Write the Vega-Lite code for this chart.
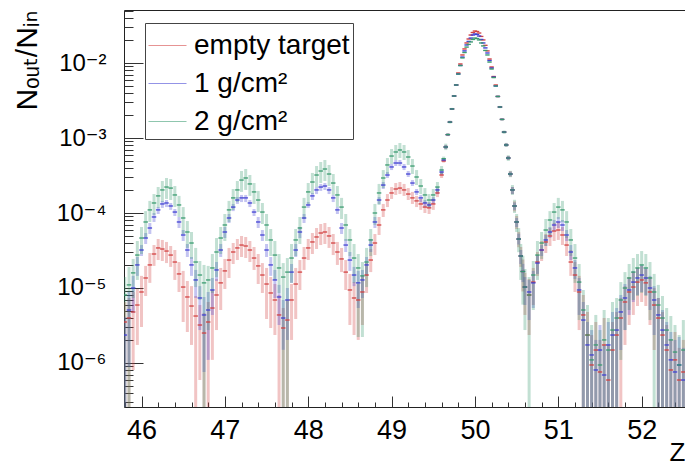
{
"$schema":"https://vega.github.io/schema/vega-lite/v6.json",
"width":561,"height":397,
"autosize":{"type":"none"},
"padding":{"left":124,"top":10,"right":0,"bottom":58},
"background":"white",
"config":{"view":{"stroke":"#222","strokeWidth":1},"font":"Liberation Sans, DejaVu Sans",
"axis":{"domain":false,"grid":false,"tickColor":"#333","tickWidth":1,"labelColor":"#000","titleColor":"#000","titleFontWeight":"normal","labelFont":"Liberation Sans, DejaVu Sans","titleFont":"Liberation Sans, DejaVu Sans","labelOverlap":false,"labelFlush":false,"labelBound":false}},
"data":{"values":[
{"z":45.8,"s":"e","v":3.52e-6,"lo":1e-8,"hi":6.51e-6},
{"z":45.85,"s":"e","v":3.98e-6,"lo":1e-8,"hi":7.36e-6},
{"z":45.9,"s":"e","v":4.79e-6,"lo":8.07e-7,"hi":8.85e-6},
{"z":45.95,"s":"e","v":5.93e-6,"lo":1.74e-6,"hi":9.70e-6},
{"z":46.0,"s":"e","v":8.85e-6,"lo":3.02e-6,"hi":1.45e-5},
{"z":46.05,"s":"e","v":1.36e-5,"lo":7.82e-6,"hi":1.97e-5},
{"z":46.1,"s":"e","v":2.03e-5,"lo":1.17e-5,"hi":2.93e-5},
{"z":46.15,"s":"e","v":2.84e-5,"lo":1.97e-5,"hi":3.74e-5},
{"z":46.2,"s":"e","v":3.42e-5,"lo":2.36e-5,"hi":4.50e-5},
{"z":46.25,"s":"e","v":3.31e-5,"lo":2.29e-5,"hi":4.37e-5},
{"z":46.3,"s":"e","v":3.11e-5,"lo":2.15e-5,"hi":4.11e-5},
{"z":46.35,"s":"e","v":2.75e-5,"lo":1.91e-5,"hi":3.63e-5},
{"z":46.4,"s":"e","v":2.22e-5,"lo":1.28e-5,"hi":3.21e-5},
{"z":46.45,"s":"e","v":1.54e-5,"lo":8.85e-6,"hi":2.22e-5},
{"z":46.5,"s":"e","v":1.03e-5,"lo":3.52e-6,"hi":1.69e-5},
{"z":46.55,"s":"e","v":7.59e-6,"lo":2.59e-6,"hi":1.24e-5},
{"z":46.6,"s":"e","v":5.75e-6,"lo":1.74e-6,"hi":1.06e-5},
{"z":46.65,"s":"e","v":4.23e-6,"lo":1e-8,"hi":7.82e-6},
{"z":46.7,"s":"e","v":3.21e-6,"lo":5.93e-7,"hi":5.93e-6},
{"z":46.75,"s":"e","v":2.51e-6,"lo":1e-8,"hi":4.64e-6},
{"z":46.8,"s":"e","v":3.52e-6,"lo":1e-8,"hi":6.51e-6},
{"z":46.85,"s":"e","v":5.41e-6,"lo":1.10e-6,"hi":9.41e-6},
{"z":46.9,"s":"e","v":8.07e-6,"lo":2.75e-6,"hi":1.32e-5},
{"z":46.95,"s":"e","v":1.17e-5,"lo":5.09e-6,"hi":1.85e-5},
{"z":47.0,"s":"e","v":1.69e-5,"lo":9.70e-6,"hi":2.44e-5},
{"z":47.05,"s":"e","v":2.36e-5,"lo":1.36e-5,"hi":3.42e-5},
{"z":47.1,"s":"e","v":3.02e-5,"lo":2.09e-5,"hi":3.98e-5},
{"z":47.15,"s":"e","v":3.42e-5,"lo":2.36e-5,"hi":4.50e-5},
{"z":47.2,"s":"e","v":3.74e-5,"lo":2.59e-5,"hi":4.94e-5},
{"z":47.25,"s":"e","v":3.63e-5,"lo":2.51e-5,"hi":4.79e-5},
{"z":47.3,"s":"e","v":3.21e-5,"lo":2.22e-5,"hi":4.23e-5},
{"z":47.35,"s":"e","v":2.51e-5,"lo":1.74e-5,"hi":3.52e-5},
{"z":47.4,"s":"e","v":1.97e-5,"lo":1.13e-5,"hi":2.84e-5},
{"z":47.45,"s":"e","v":1.49e-5,"lo":8.58e-6,"hi":2.15e-5},
{"z":47.5,"s":"e","v":1.13e-5,"lo":3.86e-6,"hi":1.85e-5},
{"z":47.55,"s":"e","v":8.58e-6,"lo":2.93e-6,"hi":1.40e-5},
{"z":47.6,"s":"e","v":6.92e-6,"lo":2.36e-6,"hi":1.13e-5},
{"z":47.65,"s":"e","v":4.37e-6,"lo":1e-8,"hi":8.07e-6},
{"z":47.7,"s":"e","v":2.93e-6,"lo":1e-8,"hi":5.41e-6},
{"z":47.75,"s":"e","v":3.74e-6,"lo":1e-8,"hi":6.92e-6},
{"z":47.8,"s":"e","v":6.92e-6,"lo":2.03e-6,"hi":1.13e-5},
{"z":47.85,"s":"e","v":1.13e-5,"lo":3.86e-6,"hi":1.85e-5},
{"z":47.9,"s":"e","v":1.63e-5,"lo":9.41e-6,"hi":2.36e-5},
{"z":47.95,"s":"e","v":2.51e-5,"lo":1.74e-5,"hi":3.52e-5},
{"z":48.0,"s":"e","v":3.42e-5,"lo":2.36e-5,"hi":4.50e-5},
{"z":48.05,"s":"e","v":4.11e-5,"lo":2.84e-5,"hi":5.41e-5},
{"z":48.1,"s":"e","v":4.79e-5,"lo":3.31e-5,"hi":6.31e-5},
{"z":48.15,"s":"e","v":5.41e-5,"lo":3.74e-5,"hi":7.13e-5},
{"z":48.2,"s":"e","v":5.58e-5,"lo":3.86e-5,"hi":7.36e-5},
{"z":48.25,"s":"e","v":4.94e-5,"lo":3.42e-5,"hi":6.51e-5},
{"z":48.3,"s":"e","v":3.98e-5,"lo":2.75e-5,"hi":5.25e-5},
{"z":48.35,"s":"e","v":3.02e-5,"lo":2.03e-5,"hi":4.11e-5},
{"z":48.4,"s":"e","v":2.44e-5,"lo":1.63e-5,"hi":3.42e-5},
{"z":48.45,"s":"e","v":1.63e-5,"lo":9.41e-6,"hi":2.36e-5},
{"z":48.5,"s":"e","v":9.41e-6,"lo":3.21e-6,"hi":1.54e-5},
{"z":48.55,"s":"e","v":7.36e-6,"lo":2.36e-6,"hi":1.20e-5},
{"z":48.6,"s":"e","v":6.92e-6,"lo":2.03e-6,"hi":1.13e-5},
{"z":48.65,"s":"e","v":8.85e-6,"lo":3.21e-6,"hi":1.45e-5},
{"z":48.7,"s":"e","v":1.49e-5,"lo":8.58e-6,"hi":2.15e-5},
{"z":48.75,"s":"e","v":2.36e-5,"lo":1.63e-5,"hi":3.31e-5},
{"z":48.8,"s":"e","v":3.98e-5,"lo":2.75e-5,"hi":5.25e-5},
{"z":48.85,"s":"e","v":6.92e-5,"lo":5.09e-5,"hi":8.85e-5},
{"z":48.9,"s":"e","v":1.10e-4,"lo":8.85e-5,"hi":1.32e-4},
{"z":48.95,"s":"e","v":1.49e-4,"lo":1.20e-4,"hi":1.79e-4},
{"z":49.0,"s":"e","v":1.85e-4,"lo":1.54e-4,"hi":2.22e-4},
{"z":49.05,"s":"e","v":2.09e-4,"lo":1.74e-4,"hi":2.51e-4},
{"z":49.1,"s":"e","v":2.15e-4,"lo":1.79e-4,"hi":2.59e-4},
{"z":49.15,"s":"e","v":2.03e-4,"lo":1.69e-4,"hi":2.44e-4},
{"z":49.2,"s":"e","v":1.79e-4,"lo":1.49e-4,"hi":2.15e-4},
{"z":49.25,"s":"e","v":1.59e-4,"lo":1.32e-4,"hi":1.91e-4},
{"z":49.3,"s":"e","v":1.45e-4,"lo":1.20e-4,"hi":1.69e-4},
{"z":49.35,"s":"e","v":1.32e-4,"lo":1.10e-4,"hi":1.54e-4},
{"z":49.4,"s":"e","v":1.20e-4,"lo":1.00e-4,"hi":1.40e-4},
{"z":49.45,"s":"e","v":1.17e-4,"lo":9.70e-5,"hi":1.36e-4},
{"z":49.5,"s":"e","v":1.32e-4,"lo":1.10e-4,"hi":1.54e-4},
{"z":49.55,"s":"e","v":1.85e-4,"lo":1.63e-4,"hi":2.09e-4},
{"z":49.6,"s":"e","v":3.21e-4,"lo":2.93e-4,"hi":3.52e-4},
{"z":49.65,"s":"e","v":7.59e-4,"lo":7.13e-4,"hi":8.07e-4},
{"z":49.7,"s":"e","v":1.63e-3,"lo":1.59e-3,"hi":1.69e-3},
{"z":49.75,"s":"e","v":3.63e-3,"lo":3.52e-3,"hi":3.74e-3},
{"z":49.8,"s":"e","v":7.36e-3,"lo":7.2e-3,"hi":7.5e-3},
{"z":49.85,"s":"e","v":1.28e-2,"lo":1.26e-2,"hi":1.30e-2},
{"z":49.9,"s":"e","v":1.85e-2,"lo":1.82e-2,"hi":1.88e-2},
{"z":49.95,"s":"e","v":2.36e-2,"lo":2.32e-2,"hi":2.40e-2},
{"z":50.0,"s":"e","v":2.67e-2,"lo":2.62e-2,"hi":2.72e-2},
{"z":50.05,"s":"e","v":2.51e-2,"lo":2.47e-2,"hi":2.55e-2},
{"z":50.1,"s":"e","v":2.03e-2,"lo":2.00e-2,"hi":2.06e-2},
{"z":50.15,"s":"e","v":1.45e-2,"lo":1.43e-2,"hi":1.47e-2},
{"z":50.2,"s":"e","v":8.85e-3,"lo":8.7e-3,"hi":9.0e-3},
{"z":50.25,"s":"e","v":5.09e-3,"lo":4.99e-3,"hi":5.19e-3},
{"z":50.3,"s":"e","v":2.59e-3,"lo":2.53e-3,"hi":2.65e-3},
{"z":50.35,"s":"e","v":1.20e-3,"lo":1.16e-3,"hi":1.24e-3},
{"z":50.4,"s":"e","v":5.41e-4,"lo":5.09e-4,"hi":5.75e-4},
{"z":50.45,"s":"e","v":2.03e-4,"lo":1.79e-4,"hi":2.22e-4},
{"z":50.5,"s":"e","v":7.59e-5,"lo":6.12e-5,"hi":9.12e-5},
{"z":50.55,"s":"e","v":2.67e-5,"lo":1.91e-5,"hi":3.52e-5},
{"z":50.6,"s":"e","v":1.03e-5,"lo":4.37e-6,"hi":1.59e-5},
{"z":50.65,"s":"e","v":8.07e-6,"lo":2.36e-6,"hi":1.32e-5},
{"z":50.7,"s":"e","v":1.20e-5,"lo":5.93e-6,"hi":1.85e-5},
{"z":50.75,"s":"e","v":2.22e-5,"lo":1.45e-5,"hi":3.02e-5},
{"z":50.8,"s":"e","v":3.21e-5,"lo":2.29e-5,"hi":4.23e-5},
{"z":50.85,"s":"e","v":4.11e-5,"lo":2.93e-5,"hi":5.25e-5},
{"z":50.9,"s":"e","v":4.94e-5,"lo":3.63e-5,"hi":6.31e-5},
{"z":50.95,"s":"e","v":5.75e-5,"lo":4.23e-5,"hi":7.36e-5},
{"z":51.0,"s":"e","v":5.93e-5,"lo":4.37e-5,"hi":7.59e-5},
{"z":51.05,"s":"e","v":5.09e-5,"lo":3.74e-5,"hi":6.51e-5},
{"z":51.1,"s":"e","v":3.74e-5,"lo":2.67e-5,"hi":4.94e-5},
{"z":51.15,"s":"e","v":2.22e-5,"lo":1.45e-5,"hi":3.21e-5},
{"z":51.2,"s":"e","v":1.49e-5,"lo":8.85e-6,"hi":2.22e-5},
{"z":51.25,"s":"e","v":8.85e-6,"lo":2.75e-6,"hi":1.45e-5},
{"z":51.3,"s":"e","v":4.37e-6,"lo":1e-8,"hi":8.07e-6},
{"z":51.35,"s":"e","v":2.36e-6,"lo":1e-8,"hi":4.79e-6},
{"z":51.4,"s":"e","v":9.41e-7,"lo":1e-8,"hi":2.36e-6},
{"z":51.45,"s":"e","v":1.49e-6,"lo":1e-8,"hi":3.52e-6},
{"z":51.5,"s":"e","v":7.59e-7,"lo":1e-8,"hi":2.03e-6},
{"z":51.55,"s":"e","v":1.74e-6,"lo":1e-8,"hi":3.98e-6},
{"z":51.6,"s":"e","v":5.93e-7,"lo":1e-8,"hi":1.74e-6},
{"z":51.65,"s":"e","v":1.49e-6,"lo":1e-8,"hi":3.52e-6},
{"z":51.7,"s":"e","v":2.36e-6,"lo":1e-8,"hi":4.79e-6},
{"z":51.75,"s":"e","v":3.98e-6,"lo":1e-8,"hi":7.36e-6},
{"z":51.8,"s":"e","v":6.51e-6,"lo":1.74e-6,"hi":1.06e-5},
{"z":51.85,"s":"e","v":8.85e-6,"lo":3.21e-6,"hi":1.40e-5},
{"z":51.9,"s":"e","v":1.03e-5,"lo":4.37e-6,"hi":1.63e-5},
{"z":51.95,"s":"e","v":1.20e-5,"lo":5.75e-6,"hi":1.85e-5},
{"z":52.0,"s":"e","v":1.28e-5,"lo":6.51e-6,"hi":1.97e-5},
{"z":52.05,"s":"e","v":1.17e-5,"lo":5.75e-6,"hi":1.79e-5},
{"z":52.1,"s":"e","v":8.85e-6,"lo":3.21e-6,"hi":1.40e-5},
{"z":52.15,"s":"e","v":5.93e-6,"lo":1.49e-6,"hi":1.00e-5},
{"z":52.2,"s":"e","v":3.98e-6,"lo":1e-8,"hi":7.36e-6},
{"z":52.25,"s":"e","v":2.36e-6,"lo":1e-8,"hi":4.79e-6},
{"z":52.3,"s":"e","v":1.49e-6,"lo":1e-8,"hi":3.21e-6},
{"z":52.35,"s":"e","v":8.07e-7,"lo":1e-8,"hi":2.03e-6},
{"z":52.4,"s":"e","v":1.10e-6,"lo":1e-8,"hi":2.59e-6},
{"z":52.45,"s":"e","v":5.93e-7,"lo":1e-8,"hi":1.59e-6},
{"z":52.5,"s":"e","v":7.59e-7,"lo":1e-8,"hi":2.03e-6},
{"z":49.625,"s":"e","v":4.94e-4,"lo":4.7e-4,"hi":5.2e-4},
{"z":49.675,"s":"e","v":1.11e-3,"lo":1.07e-3,"hi":1.15e-3},
{"z":49.725,"s":"e","v":2.44e-3,"lo":2.38e-3,"hi":2.50e-3},
{"z":49.775,"s":"e","v":5.09e-3,"lo":4.99e-3,"hi":5.19e-3},
{"z":49.825,"s":"e","v":9.70e-3,"lo":9.5e-3,"hi":9.9e-3},
{"z":49.875,"s":"e","v":1.54e-2,"lo":1.51e-2,"hi":1.57e-2},
{"z":49.925,"s":"e","v":2.09e-2,"lo":2.05e-2,"hi":2.13e-2},
{"z":49.975,"s":"e","v":2.55e-2,"lo":2.50e-2,"hi":2.60e-2},
{"z":50.025,"s":"e","v":2.63e-2,"lo":2.58e-2,"hi":2.68e-2},
{"z":50.075,"s":"e","v":2.26e-2,"lo":2.22e-2,"hi":2.30e-2},
{"z":50.125,"s":"e","v":1.72e-2,"lo":1.69e-2,"hi":1.75e-2},
{"z":50.175,"s":"e","v":1.13e-2,"lo":1.11e-2,"hi":1.15e-2},
{"z":50.225,"s":"e","v":6.6e-3,"lo":6.45e-3,"hi":6.75e-3},
{"z":50.275,"s":"e","v":3.58e-3,"lo":3.49e-3,"hi":3.67e-3},
{"z":50.325,"s":"e","v":1.77e-3,"lo":1.72e-3,"hi":1.82e-3},
{"z":50.375,"s":"e","v":8.07e-4,"lo":7.7e-4,"hi":8.5e-4},
{"z":50.425,"s":"e","v":3.31e-4,"lo":3.05e-4,"hi":3.6e-4},
{"z":50.475,"s":"e","v":1.24e-4,"lo":1.05e-4,"hi":1.43e-4},
{"z":50.525,"s":"e","v":4.5e-5,"lo":3.5e-5,"hi":5.6e-5},
{"z":50.575,"s":"e","v":1.66e-5,"lo":9e-6,"hi":2.4e-5},
{"z":45.8,"s":"1","v":2.36e-6,"lo":1e-8,"hi":4.11e-6},
{"z":45.85,"s":"1","v":5.09e-6,"lo":8.85e-7,"hi":8.85e-6},
{"z":45.9,"s":"1","v":1.00e-5,"lo":4.64e-6,"hi":1.45e-5},
{"z":45.95,"s":"1","v":2.03e-5,"lo":1.45e-5,"hi":2.59e-5},
{"z":46.0,"s":"1","v":3.21e-5,"lo":2.67e-5,"hi":3.74e-5},
{"z":46.05,"s":"1","v":4.64e-5,"lo":3.86e-5,"hi":5.41e-5},
{"z":46.1,"s":"1","v":6.31e-5,"lo":5.25e-5,"hi":7.36e-5},
{"z":46.15,"s":"1","v":8.85e-5,"lo":7.59e-5,"hi":1.00e-4},
{"z":46.2,"s":"1","v":1.10e-4,"lo":9.70e-5,"hi":1.20e-4},
{"z":46.25,"s":"1","v":1.32e-4,"lo":1.17e-4,"hi":1.45e-4},
{"z":46.3,"s":"1","v":1.36e-4,"lo":1.20e-4,"hi":1.49e-4},
{"z":46.35,"s":"1","v":1.24e-4,"lo":1.10e-4,"hi":1.36e-4},
{"z":46.4,"s":"1","v":1.03e-4,"lo":9.12e-5,"hi":1.13e-4},
{"z":46.45,"s":"1","v":7.59e-5,"lo":6.31e-5,"hi":8.85e-5},
{"z":46.5,"s":"1","v":5.09e-5,"lo":4.23e-5,"hi":5.93e-5},
{"z":46.55,"s":"1","v":3.21e-5,"lo":2.59e-5,"hi":3.86e-5},
{"z":46.6,"s":"1","v":2.03e-5,"lo":1.45e-5,"hi":2.59e-5},
{"z":46.65,"s":"1","v":1.28e-5,"lo":7.36e-6,"hi":1.74e-5},
{"z":46.7,"s":"1","v":7.36e-6,"lo":2.75e-6,"hi":1.06e-5},
{"z":46.75,"s":"1","v":4.37e-6,"lo":7.59e-7,"hi":7.59e-6},
{"z":46.8,"s":"1","v":5.09e-6,"lo":1.10e-6,"hi":8.85e-6},
{"z":46.85,"s":"1","v":9.41e-6,"lo":4.37e-6,"hi":1.36e-5},
{"z":46.9,"s":"1","v":1.74e-5,"lo":1.24e-5,"hi":2.22e-5},
{"z":46.95,"s":"1","v":3.21e-5,"lo":2.59e-5,"hi":3.86e-5},
{"z":47.0,"s":"1","v":5.58e-5,"lo":4.64e-5,"hi":6.51e-5},
{"z":47.05,"s":"1","v":8.58e-5,"lo":7.36e-5,"hi":9.70e-5},
{"z":47.1,"s":"1","v":1.20e-4,"lo":1.06e-4,"hi":1.32e-4},
{"z":47.15,"s":"1","v":1.49e-4,"lo":1.32e-4,"hi":1.63e-4},
{"z":47.2,"s":"1","v":1.59e-4,"lo":1.40e-4,"hi":1.74e-4},
{"z":47.25,"s":"1","v":1.59e-4,"lo":1.40e-4,"hi":1.74e-4},
{"z":47.3,"s":"1","v":1.36e-4,"lo":1.20e-4,"hi":1.49e-4},
{"z":47.35,"s":"1","v":1.03e-4,"lo":9.12e-5,"hi":1.13e-4},
{"z":47.4,"s":"1","v":7.59e-5,"lo":6.31e-5,"hi":8.85e-5},
{"z":47.45,"s":"1","v":5.09e-5,"lo":4.23e-5,"hi":5.93e-5},
{"z":47.5,"s":"1","v":3.21e-5,"lo":2.59e-5,"hi":3.86e-5},
{"z":47.55,"s":"1","v":2.03e-5,"lo":1.45e-5,"hi":2.59e-5},
{"z":47.6,"s":"1","v":1.28e-5,"lo":7.36e-6,"hi":1.74e-5},
{"z":47.65,"s":"1","v":7.59e-6,"lo":3.21e-6,"hi":1.10e-5},
{"z":47.7,"s":"1","v":3.98e-6,"lo":1.5e-6,"hi":6.92e-6},
{"z":47.75,"s":"1","v":6.92e-6,"lo":2.03e-6,"hi":1.00e-5},
{"z":47.8,"s":"1","v":1.63e-5,"lo":1.17e-5,"hi":2.09e-5},
{"z":47.85,"s":"1","v":3.21e-5,"lo":2.59e-5,"hi":3.86e-5},
{"z":47.9,"s":"1","v":5.58e-5,"lo":4.64e-5,"hi":6.51e-5},
{"z":47.95,"s":"1","v":8.58e-5,"lo":7.36e-5,"hi":9.70e-5},
{"z":48.0,"s":"1","v":1.28e-4,"lo":1.17e-4,"hi":1.40e-4},
{"z":48.05,"s":"1","v":1.69e-4,"lo":1.49e-4,"hi":1.85e-4},
{"z":48.1,"s":"1","v":2.03e-4,"lo":1.79e-4,"hi":2.22e-4},
{"z":48.15,"s":"1","v":2.22e-4,"lo":1.97e-4,"hi":2.44e-4},
{"z":48.2,"s":"1","v":2.29e-4,"lo":2.03e-4,"hi":2.51e-4},
{"z":48.25,"s":"1","v":2.03e-4,"lo":1.79e-4,"hi":2.22e-4},
{"z":48.3,"s":"1","v":1.59e-4,"lo":1.40e-4,"hi":1.74e-4},
{"z":48.35,"s":"1","v":1.10e-4,"lo":9.70e-5,"hi":1.20e-4},
{"z":48.4,"s":"1","v":6.31e-5,"lo":5.25e-5,"hi":7.36e-5},
{"z":48.45,"s":"1","v":3.74e-5,"lo":3.02e-5,"hi":4.50e-5},
{"z":48.5,"s":"1","v":2.36e-5,"lo":1.69e-5,"hi":3.02e-5},
{"z":48.55,"s":"1","v":1.49e-5,"lo":1.06e-5,"hi":1.91e-5},
{"z":48.6,"s":"1","v":1.17e-5,"lo":5.41e-6,"hi":1.69e-5},
{"z":48.65,"s":"1","v":1.28e-5,"lo":7.36e-6,"hi":1.74e-5},
{"z":48.7,"s":"1","v":2.03e-5,"lo":1.45e-5,"hi":2.59e-5},
{"z":48.75,"s":"1","v":3.74e-5,"lo":3.02e-5,"hi":4.50e-5},
{"z":48.8,"s":"1","v":7.59e-5,"lo":6.31e-5,"hi":8.85e-5},
{"z":48.85,"s":"1","v":1.49e-4,"lo":1.32e-4,"hi":1.63e-4},
{"z":48.9,"s":"1","v":2.36e-4,"lo":2.09e-4,"hi":2.59e-4},
{"z":48.95,"s":"1","v":3.21e-4,"lo":2.93e-4,"hi":3.52e-4},
{"z":49.0,"s":"1","v":4.11e-4,"lo":3.74e-4,"hi":4.50e-4},
{"z":49.05,"s":"1","v":4.64e-4,"lo":4.23e-4,"hi":5.09e-4},
{"z":49.1,"s":"1","v":4.64e-4,"lo":4.23e-4,"hi":5.09e-4},
{"z":49.15,"s":"1","v":4.11e-4,"lo":3.74e-4,"hi":4.50e-4},
{"z":49.2,"s":"1","v":3.31e-4,"lo":3.02e-4,"hi":3.63e-4},
{"z":49.25,"s":"1","v":2.51e-4,"lo":2.29e-4,"hi":2.75e-4},
{"z":49.3,"s":"1","v":1.91e-4,"lo":1.74e-4,"hi":2.09e-4},
{"z":49.35,"s":"1","v":1.59e-4,"lo":1.40e-4,"hi":1.74e-4},
{"z":49.4,"s":"1","v":1.36e-4,"lo":1.20e-4,"hi":1.49e-4},
{"z":49.45,"s":"1","v":1.28e-4,"lo":1.17e-4,"hi":1.40e-4},
{"z":49.5,"s":"1","v":1.49e-4,"lo":1.32e-4,"hi":1.63e-4},
{"z":49.55,"s":"1","v":2.03e-4,"lo":1.79e-4,"hi":2.22e-4},
{"z":49.6,"s":"1","v":3.52e-4,"lo":3.21e-4,"hi":3.86e-4},
{"z":49.65,"s":"1","v":7.59e-4,"lo":7.13e-4,"hi":8.07e-4},
{"z":49.7,"s":"1","v":1.63e-3,"lo":1.59e-3,"hi":1.69e-3},
{"z":49.75,"s":"1","v":3.63e-3,"lo":3.52e-3,"hi":3.74e-3},
{"z":49.8,"s":"1","v":7.13e-3,"lo":6.92e-3,"hi":7.36e-3},
{"z":49.85,"s":"1","v":1.20e-2,"lo":1.18e-2,"hi":1.22e-2},
{"z":49.9,"s":"1","v":1.74e-2,"lo":1.71e-2,"hi":1.77e-2},
{"z":49.95,"s":"1","v":2.15e-2,"lo":2.11e-2,"hi":2.19e-2},
{"z":50.0,"s":"1","v":2.44e-2,"lo":2.40e-2,"hi":2.48e-2},
{"z":50.05,"s":"1","v":2.29e-2,"lo":2.25e-2,"hi":2.33e-2},
{"z":50.1,"s":"1","v":1.85e-2,"lo":1.82e-2,"hi":1.88e-2},
{"z":50.15,"s":"1","v":1.36e-2,"lo":1.34e-2,"hi":1.38e-2},
{"z":50.2,"s":"1","v":8.58e-3,"lo":8.41e-3,"hi":8.75e-3},
{"z":50.25,"s":"1","v":4.94e-3,"lo":4.84e-3,"hi":5.04e-3},
{"z":50.3,"s":"1","v":2.59e-3,"lo":2.53e-3,"hi":2.65e-3},
{"z":50.35,"s":"1","v":1.20e-3,"lo":1.16e-3,"hi":1.24e-3},
{"z":50.4,"s":"1","v":5.41e-4,"lo":5.09e-4,"hi":5.75e-4},
{"z":50.45,"s":"1","v":2.03e-4,"lo":1.79e-4,"hi":2.22e-4},
{"z":50.5,"s":"1","v":7.59e-5,"lo":6.51e-5,"hi":8.58e-5},
{"z":50.55,"s":"1","v":2.67e-5,"lo":2.09e-5,"hi":3.21e-5},
{"z":50.6,"s":"1","v":1.03e-5,"lo":5.93e-6,"hi":1.40e-5},
{"z":50.65,"s":"1","v":8.85e-6,"lo":3.74e-6,"hi":1.28e-5},
{"z":50.7,"s":"1","v":1.17e-5,"lo":5.41e-6,"hi":1.69e-5},
{"z":50.75,"s":"1","v":2.15e-5,"lo":1.54e-5,"hi":2.75e-5},
{"z":50.8,"s":"1","v":3.21e-5,"lo":2.67e-5,"hi":3.74e-5},
{"z":50.85,"s":"1","v":4.37e-5,"lo":3.63e-5,"hi":5.09e-5},
{"z":50.9,"s":"1","v":5.58e-5,"lo":4.64e-5,"hi":6.51e-5},
{"z":50.95,"s":"1","v":6.92e-5,"lo":5.75e-5,"hi":8.07e-5},
{"z":51.0,"s":"1","v":7.59e-5,"lo":6.31e-5,"hi":8.85e-5},
{"z":51.05,"s":"1","v":6.92e-5,"lo":5.75e-5,"hi":8.07e-5},
{"z":51.1,"s":"1","v":5.09e-5,"lo":4.23e-5,"hi":5.93e-5},
{"z":51.15,"s":"1","v":3.02e-5,"lo":2.36e-5,"hi":3.74e-5},
{"z":51.2,"s":"1","v":1.85e-5,"lo":1.32e-5,"hi":2.36e-5},
{"z":51.25,"s":"1","v":9.41e-6,"lo":4.37e-6,"hi":1.36e-5},
{"z":51.3,"s":"1","v":3.74e-6,"lo":1e-8,"hi":6.51e-6},
{"z":51.35,"s":"1","v":1.74e-6,"lo":1e-8,"hi":3.52e-6},
{"z":51.4,"s":"1","v":1.28e-6,"lo":1e-8,"hi":2.75e-6},
{"z":51.45,"s":"1","v":8.07e-7,"lo":1e-8,"hi":2.03e-6},
{"z":51.5,"s":"1","v":1.49e-6,"lo":1e-8,"hi":3.21e-6},
{"z":51.55,"s":"1","v":6.92e-7,"lo":1e-8,"hi":1.74e-6},
{"z":51.6,"s":"1","v":1.74e-6,"lo":1e-8,"hi":3.52e-6},
{"z":51.65,"s":"1","v":2.36e-6,"lo":1e-8,"hi":4.79e-6},
{"z":51.7,"s":"1","v":2.75e-6,"lo":1e-8,"hi":5.41e-6},
{"z":51.75,"s":"1","v":4.79e-6,"lo":1.49e-6,"hi":8.07e-6},
{"z":51.8,"s":"1","v":7.36e-6,"lo":2.75e-6,"hi":1.13e-5},
{"z":51.85,"s":"1","v":9.41e-6,"lo":4.37e-6,"hi":1.36e-5},
{"z":51.9,"s":"1","v":1.20e-5,"lo":6.51e-6,"hi":1.69e-5},
{"z":51.95,"s":"1","v":1.36e-5,"lo":8.07e-6,"hi":1.85e-5},
{"z":52.0,"s":"1","v":1.49e-5,"lo":8.85e-6,"hi":2.03e-5},
{"z":52.05,"s":"1","v":1.36e-5,"lo":8.07e-6,"hi":1.85e-5},
{"z":52.1,"s":"1","v":1.00e-5,"lo":5.09e-6,"hi":1.45e-5},
{"z":52.15,"s":"1","v":6.92e-6,"lo":2.36e-6,"hi":1.06e-5},
{"z":52.2,"s":"1","v":4.37e-6,"lo":1e-8,"hi":7.36e-6},
{"z":52.25,"s":"1","v":2.75e-6,"lo":1e-8,"hi":5.09e-6},
{"z":52.3,"s":"1","v":1.74e-6,"lo":1e-8,"hi":3.52e-6},
{"z":52.35,"s":"1","v":1.10e-6,"lo":1e-8,"hi":2.59e-6},
{"z":52.4,"s":"1","v":7.59e-7,"lo":1e-8,"hi":2.03e-6},
{"z":52.45,"s":"1","v":9.41e-7,"lo":1e-8,"hi":2.22e-6},
{"z":52.5,"s":"1","v":5.93e-7,"lo":1e-8,"hi":1.59e-6},
{"z":49.625,"s":"1","v":5.09e-4,"lo":4.85e-4,"hi":5.35e-4},
{"z":49.675,"s":"1","v":1.11e-3,"lo":1.07e-3,"hi":1.15e-3},
{"z":49.725,"s":"1","v":2.44e-3,"lo":2.38e-3,"hi":2.50e-3},
{"z":49.775,"s":"1","v":5.09e-3,"lo":4.99e-3,"hi":5.19e-3},
{"z":49.825,"s":"1","v":9.26e-3,"lo":9.07e-3,"hi":9.45e-3},
{"z":49.875,"s":"1","v":1.45e-2,"lo":1.42e-2,"hi":1.48e-2},
{"z":49.925,"s":"1","v":1.94e-2,"lo":1.90e-2,"hi":1.98e-2},
{"z":49.975,"s":"1","v":2.36e-2,"lo":2.32e-2,"hi":2.40e-2},
{"z":50.025,"s":"1","v":2.40e-2,"lo":2.36e-2,"hi":2.44e-2},
{"z":50.075,"s":"1","v":2.06e-2,"lo":2.02e-2,"hi":2.10e-2},
{"z":50.125,"s":"1","v":1.59e-2,"lo":1.56e-2,"hi":1.62e-2},
{"z":50.175,"s":"1","v":1.08e-2,"lo":1.06e-2,"hi":1.10e-2},
{"z":50.225,"s":"1","v":6.51e-3,"lo":6.38e-3,"hi":6.64e-3},
{"z":50.275,"s":"1","v":3.58e-3,"lo":3.49e-3,"hi":3.67e-3},
{"z":50.325,"s":"1","v":1.77e-3,"lo":1.72e-3,"hi":1.82e-3},
{"z":50.375,"s":"1","v":8.07e-4,"lo":7.7e-4,"hi":8.5e-4},
{"z":50.425,"s":"1","v":3.31e-4,"lo":3.08e-4,"hi":3.55e-4},
{"z":50.475,"s":"1","v":1.24e-4,"lo":1.1e-4,"hi":1.38e-4},
{"z":50.525,"s":"1","v":4.5e-5,"lo":3.8e-5,"hi":5.3e-5},
{"z":50.575,"s":"1","v":1.66e-5,"lo":1.2e-5,"hi":2.1e-5},
{"z":45.8,"s":"2","v":8.07e-6,"lo":1e-8,"hi":1.40e-5},
{"z":45.85,"s":"2","v":1.10e-5,"lo":1e-8,"hi":1.91e-5},
{"z":45.9,"s":"2","v":1.59e-5,"lo":7.36e-6,"hi":2.44e-5},
{"z":45.95,"s":"2","v":2.75e-5,"lo":1.28e-5,"hi":4.23e-5},
{"z":46.0,"s":"2","v":4.64e-5,"lo":2.84e-5,"hi":6.51e-5},
{"z":46.05,"s":"2","v":7.59e-5,"lo":4.64e-5,"hi":1.06e-4},
{"z":46.1,"s":"2","v":1.10e-4,"lo":7.59e-5,"hi":1.45e-4},
{"z":46.15,"s":"2","v":1.36e-4,"lo":9.41e-5,"hi":1.79e-4},
{"z":46.2,"s":"2","v":1.69e-4,"lo":1.17e-4,"hi":2.22e-4},
{"z":46.25,"s":"2","v":2.03e-4,"lo":1.40e-4,"hi":2.67e-4},
{"z":46.3,"s":"2","v":2.22e-4,"lo":1.54e-4,"hi":2.93e-4},
{"z":46.35,"s":"2","v":2.15e-4,"lo":1.49e-4,"hi":2.84e-4},
{"z":46.4,"s":"2","v":1.74e-4,"lo":1.20e-4,"hi":2.29e-4},
{"z":46.45,"s":"2","v":1.28e-4,"lo":8.85e-5,"hi":1.69e-4},
{"z":46.5,"s":"2","v":8.58e-5,"lo":5.25e-5,"hi":1.20e-4},
{"z":46.55,"s":"2","v":5.58e-5,"lo":3.42e-5,"hi":7.82e-5},
{"z":46.6,"s":"2","v":3.98e-5,"lo":2.44e-5,"hi":5.58e-5},
{"z":46.65,"s":"2","v":2.22e-5,"lo":1.03e-5,"hi":3.42e-5},
{"z":46.7,"s":"2","v":1.49e-5,"lo":6.92e-6,"hi":2.29e-5},
{"z":46.75,"s":"2","v":1.17e-5,"lo":1e-8,"hi":2.03e-5},
{"z":46.8,"s":"2","v":1.28e-5,"lo":2.75e-6,"hi":1.97e-5},
{"z":46.85,"s":"2","v":1.85e-5,"lo":8.58e-6,"hi":2.84e-5},
{"z":46.9,"s":"2","v":3.02e-5,"lo":1.40e-5,"hi":4.64e-5},
{"z":46.95,"s":"2","v":4.64e-5,"lo":2.84e-5,"hi":6.51e-5},
{"z":47.0,"s":"2","v":6.92e-5,"lo":4.23e-5,"hi":9.70e-5},
{"z":47.05,"s":"2","v":1.10e-4,"lo":7.59e-5,"hi":1.45e-4},
{"z":47.1,"s":"2","v":1.59e-4,"lo":1.10e-4,"hi":2.09e-4},
{"z":47.15,"s":"2","v":2.03e-4,"lo":1.40e-4,"hi":2.67e-4},
{"z":47.2,"s":"2","v":2.75e-4,"lo":1.91e-4,"hi":3.63e-4},
{"z":47.25,"s":"2","v":2.93e-4,"lo":2.03e-4,"hi":3.86e-4},
{"z":47.3,"s":"2","v":2.44e-4,"lo":1.69e-4,"hi":3.21e-4},
{"z":47.35,"s":"2","v":1.91e-4,"lo":1.32e-4,"hi":2.51e-4},
{"z":47.4,"s":"2","v":1.49e-4,"lo":1.03e-4,"hi":1.97e-4},
{"z":47.45,"s":"2","v":1.03e-4,"lo":7.13e-5,"hi":1.36e-4},
{"z":47.5,"s":"2","v":6.92e-5,"lo":4.23e-5,"hi":9.70e-5},
{"z":47.55,"s":"2","v":4.37e-5,"lo":2.67e-5,"hi":6.12e-5},
{"z":47.6,"s":"2","v":2.75e-5,"lo":1.28e-5,"hi":4.23e-5},
{"z":47.65,"s":"2","v":1.85e-5,"lo":8.58e-6,"hi":2.84e-5},
{"z":47.7,"s":"2","v":1.40e-5,"lo":1e-8,"hi":2.15e-5},
{"z":47.75,"s":"2","v":1.63e-5,"lo":1e-8,"hi":2.51e-5},
{"z":47.8,"s":"2","v":2.51e-5,"lo":1.17e-5,"hi":3.86e-5},
{"z":47.85,"s":"2","v":4.37e-5,"lo":2.67e-5,"hi":6.12e-5},
{"z":47.9,"s":"2","v":6.31e-5,"lo":3.86e-5,"hi":8.85e-5},
{"z":47.95,"s":"2","v":1.20e-4,"lo":8.32e-5,"hi":1.59e-4},
{"z":48.0,"s":"2","v":1.91e-4,"lo":1.32e-4,"hi":2.51e-4},
{"z":48.05,"s":"2","v":2.59e-4,"lo":1.79e-4,"hi":3.42e-4},
{"z":48.1,"s":"2","v":3.21e-4,"lo":2.22e-4,"hi":4.23e-4},
{"z":48.15,"s":"2","v":3.63e-4,"lo":2.51e-4,"hi":4.79e-4},
{"z":48.2,"s":"2","v":3.86e-4,"lo":2.67e-4,"hi":5.09e-4},
{"z":48.25,"s":"2","v":3.31e-4,"lo":2.29e-4,"hi":4.37e-4},
{"z":48.3,"s":"2","v":2.51e-4,"lo":1.74e-4,"hi":3.31e-4},
{"z":48.35,"s":"2","v":1.74e-4,"lo":1.20e-4,"hi":2.29e-4},
{"z":48.4,"s":"2","v":1.20e-4,"lo":8.32e-5,"hi":1.59e-4},
{"z":48.45,"s":"2","v":6.92e-5,"lo":4.23e-5,"hi":9.70e-5},
{"z":48.5,"s":"2","v":4.37e-5,"lo":2.67e-5,"hi":6.12e-5},
{"z":48.55,"s":"2","v":2.51e-5,"lo":1.17e-5,"hi":3.86e-5},
{"z":48.6,"s":"2","v":1.85e-5,"lo":2.22e-6,"hi":2.84e-5},
{"z":48.65,"s":"2","v":1.45e-5,"lo":2.22e-6,"hi":2.22e-5},
{"z":48.7,"s":"2","v":2.22e-5,"lo":1.03e-5,"hi":3.42e-5},
{"z":48.75,"s":"2","v":4.37e-5,"lo":2.67e-5,"hi":6.12e-5},
{"z":48.8,"s":"2","v":1.00e-4,"lo":6.92e-5,"hi":1.32e-4},
{"z":48.85,"s":"2","v":1.85e-4,"lo":1.28e-4,"hi":2.44e-4},
{"z":48.9,"s":"2","v":2.93e-4,"lo":2.15e-4,"hi":3.74e-4},
{"z":48.95,"s":"2","v":4.37e-4,"lo":3.31e-4,"hi":5.41e-4},
{"z":49.0,"s":"2","v":5.75e-4,"lo":4.50e-4,"hi":7.13e-4},
{"z":49.05,"s":"2","v":6.51e-4,"lo":5.09e-4,"hi":8.07e-4},
{"z":49.1,"s":"2","v":6.92e-4,"lo":5.41e-4,"hi":8.58e-4},
{"z":49.15,"s":"2","v":6.51e-4,"lo":5.09e-4,"hi":8.07e-4},
{"z":49.2,"s":"2","v":5.58e-4,"lo":4.37e-4,"hi":6.92e-4},
{"z":49.25,"s":"2","v":4.23e-4,"lo":3.31e-4,"hi":5.25e-4},
{"z":49.3,"s":"2","v":3.02e-4,"lo":2.36e-4,"hi":3.74e-4},
{"z":49.35,"s":"2","v":2.29e-4,"lo":1.79e-4,"hi":2.84e-4},
{"z":49.4,"s":"2","v":1.74e-4,"lo":1.36e-4,"hi":2.15e-4},
{"z":49.45,"s":"2","v":1.49e-4,"lo":1.20e-4,"hi":1.79e-4},
{"z":49.5,"s":"2","v":1.74e-4,"lo":1.45e-4,"hi":2.09e-4},
{"z":49.55,"s":"2","v":2.22e-4,"lo":1.91e-4,"hi":2.59e-4},
{"z":49.6,"s":"2","v":3.74e-4,"lo":3.31e-4,"hi":4.23e-4},
{"z":49.65,"s":"2","v":7.59e-4,"lo":6.9e-4,"hi":8.4e-4},
{"z":49.7,"s":"2","v":1.63e-3,"lo":1.56e-3,"hi":1.70e-3},
{"z":49.75,"s":"2","v":3.63e-3,"lo":3.52e-3,"hi":3.74e-3},
{"z":49.8,"s":"2","v":7.13e-3,"lo":6.95e-3,"hi":7.3e-3},
{"z":49.85,"s":"2","v":1.17e-2,"lo":1.15e-2,"hi":1.19e-2},
{"z":49.9,"s":"2","v":1.63e-2,"lo":1.60e-2,"hi":1.66e-2},
{"z":49.95,"s":"2","v":1.91e-2,"lo":1.88e-2,"hi":1.94e-2},
{"z":50.0,"s":"2","v":2.15e-2,"lo":2.11e-2,"hi":2.19e-2},
{"z":50.05,"s":"2","v":2.03e-2,"lo":2.00e-2,"hi":2.06e-2},
{"z":50.1,"s":"2","v":1.69e-2,"lo":1.66e-2,"hi":1.72e-2},
{"z":50.15,"s":"2","v":1.28e-2,"lo":1.26e-2,"hi":1.30e-2},
{"z":50.2,"s":"2","v":8.32e-3,"lo":8.15e-3,"hi":8.5e-3},
{"z":50.25,"s":"2","v":4.94e-3,"lo":4.80e-3,"hi":5.08e-3},
{"z":50.3,"s":"2","v":2.59e-3,"lo":2.50e-3,"hi":2.68e-3},
{"z":50.35,"s":"2","v":1.20e-3,"lo":1.14e-3,"hi":1.26e-3},
{"z":50.4,"s":"2","v":5.41e-4,"lo":4.95e-4,"hi":5.9e-4},
{"z":50.45,"s":"2","v":2.03e-4,"lo":1.74e-4,"hi":2.36e-4},
{"z":50.5,"s":"2","v":7.59e-5,"lo":5.58e-5,"hi":9.70e-5},
{"z":50.55,"s":"2","v":2.67e-5,"lo":1.28e-5,"hi":3.86e-5},
{"z":50.6,"s":"2","v":1.03e-5,"lo":2.75e-6,"hi":1.79e-5},
{"z":50.65,"s":"2","v":8.07e-6,"lo":1e-8,"hi":1.40e-5},
{"z":50.7,"s":"2","v":1.49e-5,"lo":5.09e-6,"hi":2.29e-5},
{"z":50.75,"s":"2","v":2.75e-5,"lo":1.28e-5,"hi":4.23e-5},
{"z":50.8,"s":"2","v":3.98e-5,"lo":2.44e-5,"hi":5.58e-5},
{"z":50.85,"s":"2","v":5.93e-5,"lo":3.63e-5,"hi":8.32e-5},
{"z":50.9,"s":"2","v":8.07e-5,"lo":5.09e-5,"hi":1.06e-4},
{"z":50.95,"s":"2","v":1.03e-4,"lo":7.13e-5,"hi":1.36e-4},
{"z":51.0,"s":"2","v":1.20e-4,"lo":8.32e-5,"hi":1.59e-4},
{"z":51.05,"s":"2","v":1.10e-4,"lo":7.59e-5,"hi":1.45e-4},
{"z":51.1,"s":"2","v":7.59e-5,"lo":4.64e-5,"hi":1.06e-4},
{"z":51.15,"s":"2","v":4.37e-5,"lo":2.67e-5,"hi":6.12e-5},
{"z":51.2,"s":"2","v":2.51e-5,"lo":1.17e-5,"hi":3.86e-5},
{"z":51.25,"s":"2","v":1.20e-5,"lo":3.74e-6,"hi":2.09e-5},
{"z":51.3,"s":"2","v":5.09e-6,"lo":1e-8,"hi":9.41e-6},
{"z":51.35,"s":"2","v":2.36e-6,"lo":1e-8,"hi":5.93e-6},
{"z":51.4,"s":"2","v":1.10e-6,"lo":1e-8,"hi":3.21e-6},
{"z":51.45,"s":"2","v":1.74e-6,"lo":1e-8,"hi":4.37e-6},
{"z":51.5,"s":"2","v":9.41e-7,"lo":1e-8,"hi":2.75e-6},
{"z":51.55,"s":"2","v":2.03e-6,"lo":1e-8,"hi":5.09e-6},
{"z":51.6,"s":"2","v":1.49e-6,"lo":1e-8,"hi":3.98e-6},
{"z":51.65,"s":"2","v":2.75e-6,"lo":1e-8,"hi":6.51e-6},
{"z":51.7,"s":"2","v":3.98e-6,"lo":1e-8,"hi":7.36e-6},
{"z":51.75,"s":"2","v":6.92e-6,"lo":1.10e-6,"hi":1.20e-5},
{"z":51.8,"s":"2","v":1.00e-5,"lo":2.75e-6,"hi":1.63e-5},
{"z":51.85,"s":"2","v":1.36e-5,"lo":5.09e-6,"hi":2.09e-5},
{"z":51.9,"s":"2","v":1.63e-5,"lo":6.92e-6,"hi":2.51e-5},
{"z":51.95,"s":"2","v":1.85e-5,"lo":7.82e-6,"hi":2.84e-5},
{"z":52.0,"s":"2","v":2.03e-5,"lo":8.58e-6,"hi":3.11e-5},
{"z":52.05,"s":"2","v":1.85e-5,"lo":7.82e-6,"hi":2.84e-5},
{"z":52.1,"s":"2","v":1.36e-5,"lo":3.74e-6,"hi":2.22e-5},
{"z":52.15,"s":"2","v":8.85e-6,"lo":1e-8,"hi":1.54e-5},
{"z":52.2,"s":"2","v":5.93e-6,"lo":1e-8,"hi":1.10e-5},
{"z":52.25,"s":"2","v":3.98e-6,"lo":1e-8,"hi":7.82e-6},
{"z":52.3,"s":"2","v":2.75e-6,"lo":1e-8,"hi":5.41e-6},
{"z":52.35,"s":"2","v":2.03e-6,"lo":1e-8,"hi":4.23e-6},
{"z":52.4,"s":"2","v":1.40e-6,"lo":1e-8,"hi":3.21e-6},
{"z":52.45,"s":"2","v":9.41e-7,"lo":1e-8,"hi":2.36e-6},
{"z":52.5,"s":"2","v":1.49e-6,"lo":1e-8,"hi":3.74e-6},
{"z":49.625,"s":"2","v":5.3e-4,"lo":4.95e-4,"hi":5.65e-4},
{"z":49.675,"s":"2","v":1.11e-3,"lo":1.06e-3,"hi":1.16e-3},
{"z":49.725,"s":"2","v":2.44e-3,"lo":2.36e-3,"hi":2.52e-3},
{"z":49.775,"s":"2","v":5.09e-3,"lo":4.96e-3,"hi":5.22e-3},
{"z":49.825,"s":"2","v":9.26e-3,"lo":9.05e-3,"hi":9.47e-3},
{"z":49.875,"s":"2","v":1.38e-2,"lo":1.35e-2,"hi":1.41e-2},
{"z":49.925,"s":"2","v":1.77e-2,"lo":1.74e-2,"hi":1.80e-2},
{"z":49.975,"s":"2","v":2.06e-2,"lo":2.02e-2,"hi":2.10e-2},
{"z":50.025,"s":"2","v":2.12e-2,"lo":2.08e-2,"hi":2.16e-2},
{"z":50.075,"s":"2","v":1.85e-2,"lo":1.82e-2,"hi":1.88e-2},
{"z":50.125,"s":"2","v":1.47e-2,"lo":1.44e-2,"hi":1.50e-2},
{"z":50.175,"s":"2","v":1.03e-2,"lo":1.01e-2,"hi":1.05e-2},
{"z":50.225,"s":"2","v":6.4e-3,"lo":6.25e-3,"hi":6.55e-3},
{"z":50.275,"s":"2","v":3.58e-3,"lo":3.47e-3,"hi":3.69e-3},
{"z":50.325,"s":"2","v":1.77e-3,"lo":1.70e-3,"hi":1.84e-3},
{"z":50.375,"s":"2","v":8.07e-4,"lo":7.6e-4,"hi":8.6e-4},
{"z":50.425,"s":"2","v":3.31e-4,"lo":3.0e-4,"hi":3.65e-4},
{"z":50.475,"s":"2","v":1.24e-4,"lo":1.0e-4,"hi":1.5e-4},
{"z":50.525,"s":"2","v":4.5e-5,"lo":3.0e-5,"hi":6.3e-5},
{"z":50.575,"s":"2","v":1.66e-5,"lo":6e-6,"hi":2.7e-5}
]},
"encoding":{
"x":{"field":"z","type":"quantitative","scale":{"domain":[45.79,52.52],"nice":false,"zero":false},
"axis":{"title":"Z","titleFontSize":26,"titleAnchor":"end","titleAlign":"right","titlePadding":-10,"tickCount":200,
"values":[45.8,46,46.2,46.4,46.6,46.8,47,47.2,47.4,47.6,47.8,48,48.2,48.4,48.6,48.8,49,49.2,49.4,49.6,49.8,50,50.2,50.4,50.6,50.8,51,51.2,51.4,51.6,51.8,52,52.2,52.4],
"labelExpr":"datum.value % 1 === 0 ? format(datum.value, 'd') : ''","labelFontSize":27,"labelPadding":21,
"tickSize":{"condition":{"test":"datum.value % 1 === 0","value":-11},"value":-5}}},
"color":{"field":"s","type":"nominal","scale":{"domain":["e","1","2"],"range":["#d23c3c","#3c3cd2","#35996c"]},
"legend":{"title":null,"orient":"none","legendX":21,"legendY":13,"direction":"vertical","symbolType":"stroke","symbolSize":1444,"symbolStrokeWidth":1,"symbolOpacity":0.55,"labelFontSize":28,"labelFont":"Liberation Sans","labelColor":"#000","labelOffset":7,"rowPadding":4,"padding":3,"strokeColor":"#444","fillColor":"white","labelLimit":400,
"labelExpr":"datum.label === 'e' ? 'empty target' : datum.label + ' g/cm²'"}}
},
"layer":[
{"mark":{"type":"rule","strokeWidth":3,"opacity":0.3,"clip":true},
"encoding":{
"y":{"field":"lo","type":"quantitative","scale":{"type":"log","domain":[2.59e-7,0.0509],"nice":false,"clamp":true},
"axis":{"title":"Nₒᵤₜ/Nᵢₙ","titleFontSize":30,"titleAnchor":"end","titlePadding":14,"tickCount":200,
"values":[3e-7,4e-7,5e-7,6e-7,7e-7,8e-7,9e-7,1e-6,2e-6,3e-6,4e-6,5e-6,6e-6,7e-6,8e-6,9e-6,1e-5,2e-5,3e-5,4e-5,5e-5,6e-5,7e-5,8e-5,9e-5,1e-4,2e-4,3e-4,4e-4,5e-4,6e-4,7e-4,8e-4,9e-4,1e-3,2e-3,3e-3,4e-3,5e-3,6e-3,7e-3,8e-3,9e-3,1e-2,2e-2,3e-2,4e-2,5e-2],
"labelExpr":"datum.value === 0.01 ? '10⁻²' : datum.value === 0.001 ? '10⁻³' : datum.value === 0.0001 ? '10⁻⁴' : datum.value === 0.00001 ? '10⁻⁵' : datum.value === 0.000001 ? '10⁻⁶' : ''",
"labelFontSize":24,"labelPadding":37,
"tickSize":{"condition":{"test":"indexof([0.01,0.001,0.0001,0.00001,0.000001], datum.value) >= 0","value":-19},"value":-9}}},
"y2":{"field":"hi"}}},
{"mark":{"type":"point","shape":"stroke","size":20,"strokeWidth":1.3,"opacity":0.95,"clip":true},
"encoding":{
"y":{"field":"v","type":"quantitative","scale":{"type":"log","domain":[2.59e-7,0.0509],"nice":false,"clamp":true},
"axis":{"title":"Nₒᵤₜ/Nᵢₙ","titleFontSize":30,"titleAnchor":"end","titlePadding":14,"tickCount":200,
"values":[3e-7,4e-7,5e-7,6e-7,7e-7,8e-7,9e-7,1e-6,2e-6,3e-6,4e-6,5e-6,6e-6,7e-6,8e-6,9e-6,1e-5,2e-5,3e-5,4e-5,5e-5,6e-5,7e-5,8e-5,9e-5,1e-4,2e-4,3e-4,4e-4,5e-4,6e-4,7e-4,8e-4,9e-4,1e-3,2e-3,3e-3,4e-3,5e-3,6e-3,7e-3,8e-3,9e-3,1e-2,2e-2,3e-2,4e-2,5e-2],
"labelExpr":"datum.value === 0.01 ? '10⁻²' : datum.value === 0.001 ? '10⁻³' : datum.value === 0.0001 ? '10⁻⁴' : datum.value === 0.00001 ? '10⁻⁵' : datum.value === 0.000001 ? '10⁻⁶' : ''",
"labelFontSize":24,"labelPadding":37,
"tickSize":{"condition":{"test":"indexof([0.01,0.001,0.0001,0.00001,0.000001], datum.value) >= 0","value":-19},"value":-9}}}}}
]
}
